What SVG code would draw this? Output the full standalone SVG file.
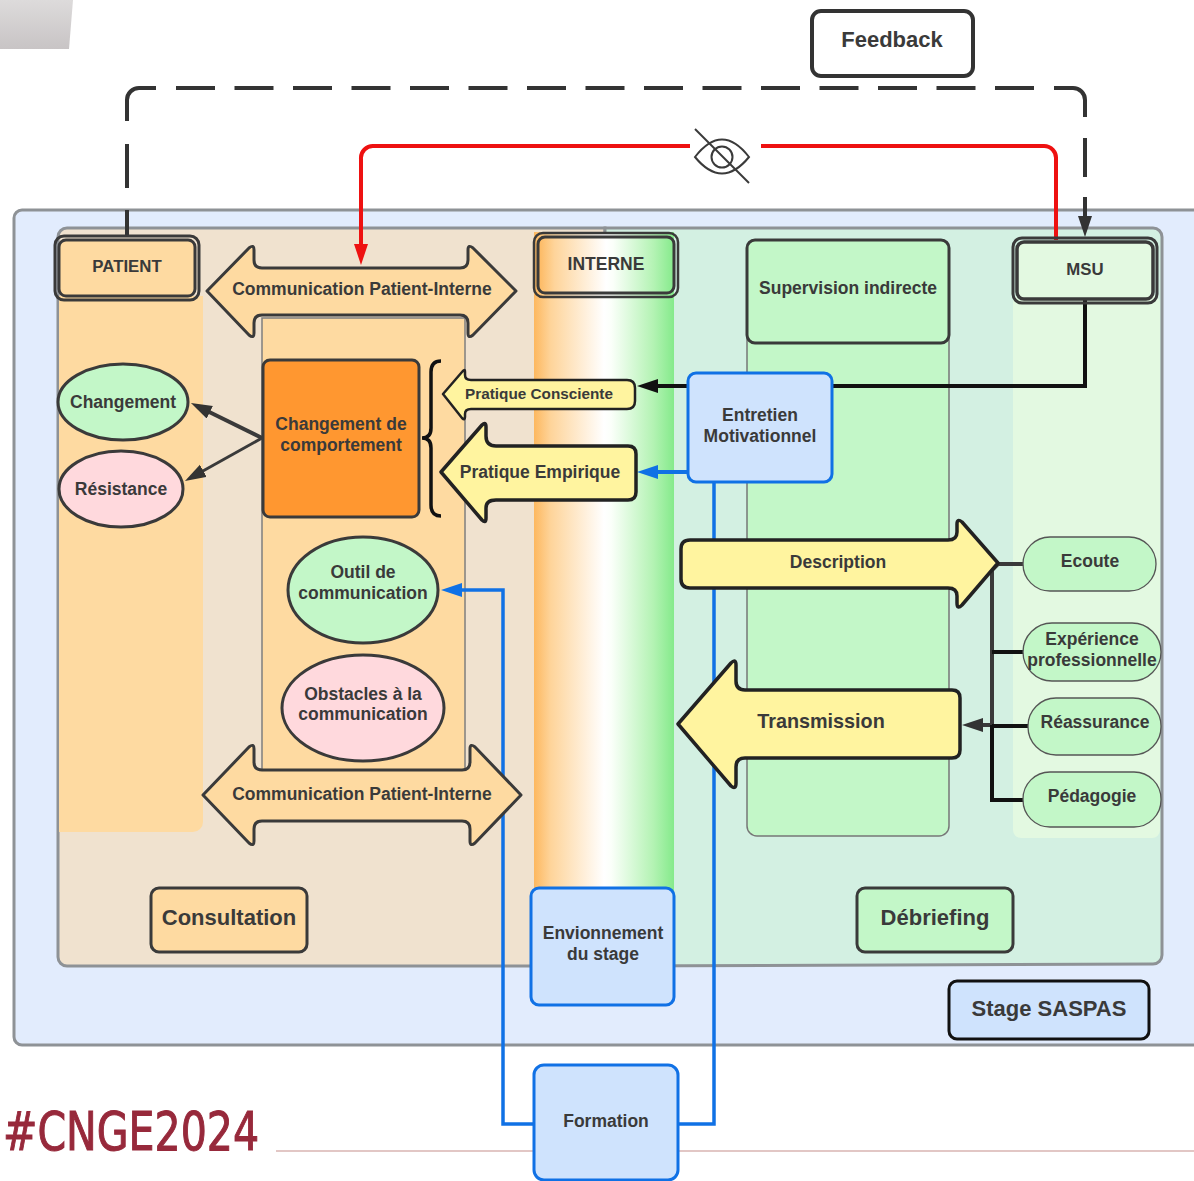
<svg xmlns="http://www.w3.org/2000/svg" width="1194" height="1181" viewBox="0 0 1194 1181">
<style>
text{font-family:"Liberation Sans",Arial,sans-serif;font-weight:700;fill:#3a3a3a;text-anchor:middle}
.t15{font-size:16.8px}.t18{font-size:17.5px}.t22{font-size:22px}
.dbl{fill:none;stroke:#3a3a3a;stroke-width:3}
.ar{stroke-linejoin:round;stroke-width:3.5;stroke:#222;fill:#fff49f}
.org{fill:#fedaa1;stroke:#3a3a3a;stroke-width:3;stroke-linejoin:round}
.blue{fill:#cfe3fd;stroke:#1071e5;stroke-width:3}
.pnk{fill:#ffd9dd;stroke:#3a3a3a;stroke-width:3}
.cg{fill:#c3f7c8;stroke:#3a3a3a;stroke-width:3}
.pill{fill:#c3f7c8;stroke:#555;stroke-width:1.3}
</style>
<defs>
<linearGradient id="grad" x1="0" x2="1" y1="0" y2="0">
<stop offset="0" stop-color="#fdb85f"/><stop offset=".12" stop-color="#fed49a"/><stop offset=".5" stop-color="#ffffff"/><stop offset=".55" stop-color="#fbfffa"/><stop offset=".85" stop-color="#b4f3b4"/><stop offset="1" stop-color="#85ea8b"/>
</linearGradient>
<linearGradient id="corner" x1="0" x2="0" y1="0" y2="1"><stop offset="0" stop-color="#dddbdb"/><stop offset="1" stop-color="#c8c4c5"/></linearGradient>
<marker id="mDark" markerUnits="userSpaceOnUse" markerWidth="22" markerHeight="16" refX="4" refY="7" orient="auto"><path d="M0 0L21 7L0 14z" fill="#333"/></marker>
<marker id="mRed" markerUnits="userSpaceOnUse" markerWidth="22" markerHeight="16" refX="4" refY="7" orient="auto"><path d="M0 0L21 7L0 14z" fill="#ee1111"/></marker>
<marker id="mBlk" markerUnits="userSpaceOnUse" markerWidth="22" markerHeight="16" refX="4" refY="7" orient="auto"><path d="M0 0L21 7L0 14z" fill="#111"/></marker>
<marker id="mBlue" markerUnits="userSpaceOnUse" markerWidth="22" markerHeight="16" refX="4" refY="7" orient="auto"><path d="M0 0L21 7L0 14z" fill="#1071e5"/></marker>
</defs>
<rect width="1194" height="1181" fill="#fff"/>
<g id="decor">
<path d="M0 0H73L69 49H0z" fill="url(#corner)"/>
<path d="M276 1151H1194" stroke="#d8b5b2" stroke-width="1.5"/>
<text x="131" y="1150" style="font-family:'DejaVu Sans Condensed','DejaVu Sans',sans-serif;font-size:53px;font-weight:400;fill:#97293b;stroke:#97293b;stroke-width:1" textLength="256" lengthAdjust="spacingAndGlyphs">#CNGE2024</text>
</g>
<g id="stage-bg"><rect x="14" y="210" width="1200" height="835" rx="8" fill="#e2ecfd" stroke="#8e9296" stroke-width="3"/></g>
<g id="consultation-bg">
<path d="M605 228H67a9 9 0 0 0-9 9V957a9 9 0 0 0 9 9H605z" fill="#f0e2cf" stroke="#8e9296" stroke-width="3"/>
<path d="M605 228H1153a9 9 0 0 1 9 9V955a9 9 0 0 1-9 9L605 966z" fill="#d3f0e2" stroke="#8e9296" stroke-width="3"/>
<path d="M59 296H203V822a10 10 0 0 1-10 10H59z" fill="#fedaa1"/>
<rect x="262" y="318" width="203" height="452" fill="#fedaa1" stroke="#7f7f7f" stroke-width="1.5"/>
<rect x="534" y="232" width="140" height="660" fill="url(#grad)"/>
<path d="M747 340H949V826a10 10 0 0 1-10 10H757a10 10 0 0 1-10-10z" fill="#c3f7c8" stroke="#777" stroke-width="1.5"/>
<rect x="1013" y="295" width="147" height="543" rx="8" fill="#e3f9e1"/>
</g>
<g id="connectors">
<path d="M127 121V100a12 12 0 0 1 12-12H156" fill="none" stroke="#333" stroke-width="4"/>
<path d="M127 144V188M127 210V236" fill="none" stroke="#333" stroke-width="4"/>
<path d="M176 88H1034" fill="none" stroke="#333" stroke-width="4" stroke-dasharray="39 19.5"/>
<path d="M1054 88H1073a12 12 0 0 1 12 12V117M1085 138V177" fill="none" stroke="#333" stroke-width="4"/>
<path d="M1085 197V220" fill="none" stroke="#333" stroke-width="4" marker-end="url(#mDark)"/>
<path d="M1056 240V159a12 12 0 0 0-12-13H374a12 12 0 0 0-13 13V248" fill="none" stroke="#ee1111" stroke-width="4" marker-end="url(#mRed)"/>
<path d="M1085 300V386H654" fill="none" stroke="#111" stroke-width="4" marker-end="url(#mBlk)"/>
<path d="M714 472H654" fill="none" stroke="#1071e5" stroke-width="4" marker-end="url(#mBlue)"/>
<path d="M714 472V1124H679" fill="none" stroke="#1071e5" stroke-width="3.5"/>
<path d="M534 1124H503V590H458" fill="none" stroke="#1071e5" stroke-width="3.5" marker-end="url(#mBlue)"/>
<path d="M262 438L206.200 410.500" fill="none" stroke="#3a3a3a" stroke-width="4" marker-end="url(#mDark)"/>
<path d="M262 438L199.800 472.700" fill="none" stroke="#3a3a3a" stroke-width="3" marker-end="url(#mDark)"/>
<path d="M1024 564H998L992 570V725H979" fill="none" stroke="#3a3a3a" stroke-width="4" marker-end="url(#mDark)"/>
<path d="M1024 652H992M1028 726H992M1024 800H992V725" fill="none" stroke="#111" stroke-width="4"/>
</g>
<g id="eye">
<rect x="690" y="125" width="71" height="65" fill="#fff"/>
<path d="M695 157Q722 122 749 157Q722 190 695 157z" fill="none" stroke="#3a3a3a" stroke-width="2"/>
<circle cx="722" cy="157" r="10.500" fill="none" stroke="#3a3a3a" stroke-width="2"/>
<path d="M695 129L749 183" stroke="#3a3a3a" stroke-width="2"/>
</g>
<g id="feedback"><rect x="812" y="11" width="161" height="65" rx="9" fill="#fff" stroke="#333" stroke-width="4"/><text x="892" y="47" class="t22">Feedback</text></g>
<g id="patient"><rect x="55" y="236" width="144" height="64" rx="9" class="dbl"/><rect x="59" y="240" width="136" height="56" rx="7" fill="#fedaa1" stroke="#3a3a3a" stroke-width="3"/><text x="127" y="272" class="t15">PATIENT</text></g>
<g id="interne"><rect x="534" y="233" width="144" height="64" rx="9" class="dbl" style="stroke-width:2.5"/><rect x="538" y="237" width="136" height="56" rx="7" fill="url(#grad)" stroke="#3a3a3a" stroke-width="3"/><text x="606" y="270" class="t18">INTERNE</text></g>
<g id="msu"><rect x="1013" y="238" width="144" height="65" rx="9" class="dbl"/><rect x="1017" y="242" width="136" height="57" rx="7" fill="#e3f9e1" stroke="#3a3a3a" stroke-width="3.5"/><text x="1085" y="275" class="t15">MSU</text></g>
<g id="supervision"><rect x="747" y="240" width="202" height="103" rx="8" fill="#c3f7c8" stroke="#3a3a3a" stroke-width="3"/><text x="848" y="294" class="t18">Supervision indirecte</text></g>
<g id="comm-top"><path d="M207 291L249 248Q254 244 254 250V260Q254 268 262 268H460Q468 268 468 260V250Q468 244 473 248L516 291L473 335Q468 339 468 333V323Q468 315 460 315H262Q254 315 254 323V333Q254 339 249 335z" class="org"/><text x="362" y="295" class="t18">Communication Patient-Interne</text></g>
<g id="comm-bottom"><path d="M203 795L249 747Q254 743 254 749V762Q254 770 262 770H462Q470 770 470 762V749Q470 743 475 747L521 795L475 843Q470 847 470 841V829Q470 821 462 821H262Q254 821 254 829V841Q254 847 249 843z" class="org"/><text x="362" y="800" class="t18">Communication Patient-Interne</text></g>
<g id="changement-comportement"><rect x="263" y="360" width="156" height="157" rx="7" fill="#ff9730" stroke="#3a3a3a" stroke-width="3"/><text x="341" y="430" class="t18">Changement de</text><text x="341" y="451" class="t18">comportement</text></g>
<g id="brace"><path d="M441 361Q431 361 431 372V428Q431 438 422 438Q431 438 431 448V505Q431 516 441 516" fill="none" stroke="#111" stroke-width="3.5"/></g>
<g id="changement"><ellipse cx="123" cy="402" rx="65" ry="38" class="cg"/><text x="123" y="408" class="t18">Changement</text></g>
<g id="resistance"><ellipse cx="121" cy="489" rx="62" ry="38" class="pnk"/><text x="121" y="495" class="t18">Résistance</text></g>
<g id="outil"><ellipse cx="363" cy="590" rx="75" ry="53" class="cg"/><text x="363" y="578" class="t18">Outil de</text><text x="363" y="599" class="t18">communication</text></g>
<g id="obstacles"><ellipse cx="363" cy="708" rx="81" ry="53" class="pnk"/><text x="363" y="700" class="t18">Obstacles à la</text><text x="363" y="720" class="t18">communication</text></g>
<g id="pratique-consciente"><path d="M443 394L462 372Q465 368 465 372V375Q465 380 471 380H627Q635 380 635 388V401Q635 409 627 409H471Q465 409 465 414V417Q465 421 462 418z" class="ar" style="stroke-width:2.5"/><text x="539" y="399" style="font-size:15.3px">Pratique Consciente</text></g>
<g id="pratique-empirique"><path d="M441 472L482 425Q486 421 486 427V436Q486 446 496 446H628Q636 446 636 454V492Q636 500 628 500H496Q486 500 486 508V518Q486 524 482 520z" class="ar"/><text x="540" y="478" class="t18">Pratique Empirique</text></g>
<g id="entretien"><rect x="688" y="373" width="144" height="109" rx="8" class="blue"/><text x="760" y="421" class="t18">Entretien</text><text x="760" y="442" class="t18">Motivationnel</text></g>
<g id="description"><path d="M681 549Q681 540 690 540H948Q957 540 957 532V524Q957 518 962 522L998 563L962 605Q957 610 957 603V596Q957 588 948 588H690Q681 588 681 579z" class="ar"/><text x="838" y="568" class="t18">Description</text></g>
<g id="transmission"><path d="M678 724L731 663Q736 658 736 665V681Q736 690 745 690H952Q960 690 960 698V750Q960 758 952 758H745Q736 758 736 767V783Q736 790 731 786z" class="ar"/><text x="821" y="728" style="font-size:19.8px">Transmission</text></g>
<g id="ecoute"><rect x="1023" y="537" width="133" height="54" rx="27" class="pill"/><text x="1090" y="567" class="t18">Ecoute</text></g>
<g id="experience"><rect x="1023" y="623" width="138" height="58" rx="29" class="pill"/><text x="1092" y="645" class="t18">Expérience</text><text x="1092" y="666" class="t18">professionnelle</text></g>
<g id="reassurance"><rect x="1028" y="698" width="133" height="57" rx="28" class="pill"/><text x="1095" y="728" class="t18">Réassurance</text></g>
<g id="pedagogie"><rect x="1023" y="772" width="138" height="55" rx="27" class="pill"/><text x="1092" y="802" class="t18">Pédagogie</text></g>
<g id="consultation"><rect x="151" y="888" width="156" height="64" rx="8" fill="#fedaa1" stroke="#3a3a3a" stroke-width="3"/><text x="229" y="925" class="t22">Consultation</text></g>
<g id="debriefing"><rect x="857" y="888" width="156" height="64" rx="8" fill="#c3f7c8" stroke="#3a3a3a" stroke-width="3"/><text x="935" y="925" class="t22">Débriefing</text></g>
<g id="stage"><rect x="949" y="981" width="200" height="58" rx="8" fill="#cfe3fd" stroke="#111" stroke-width="3"/><text x="1049" y="1016" class="t22">Stage SASPAS</text></g>
<g id="environnement"><rect x="531" y="888" width="143" height="117" rx="8" class="blue"/><text x="603" y="939" class="t18">Envionnement</text><text x="603" y="960" class="t18">du stage</text></g>
<g id="formation"><rect x="534" y="1065" width="144" height="115" rx="10" class="blue"/><text x="606" y="1127" class="t18">Formation</text></g>
</svg>
